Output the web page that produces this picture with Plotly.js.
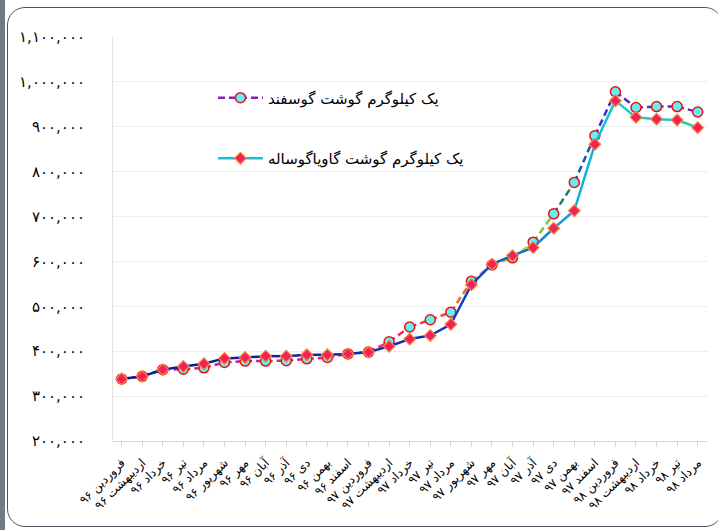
<!DOCTYPE html>
<html>
<head>
<meta charset="utf-8">
<script src="https://cdn.plot.ly/plotly-3.0.1.min.js"></script>
<style>
  html, body { margin: 0; padding: 0; background: #ffffff; }
  #wrap { position: relative; width: 718px; height: 530px; overflow: hidden; background: #fff; }
  #bar { position: absolute; left: 0; top: 0; width: 5px; height: 530px; background: #6f7b88; }
  #frame { position: absolute; left: 7px; top: 7px; width: 716px; height: 520px; border: 1.5px solid #4b5663; border-radius: 18px; box-sizing: border-box; }
  #chart { position: absolute; left: 0; top: 0; width: 718px; height: 530px; }
</style>
</head>
<body>
<div id="wrap">
  <div id="bar"></div>
  <div id="frame"></div>
  <div id="chart"></div>
</div>
<script>
// ---- data ----
const months = [
  'فروردین ۹۶','اردیبهشت ۹۶','خرداد ۹۶','تیر ۹۶','مرداد ۹۶','شهریور ۹۶','مهر ۹۶','آبان ۹۶','آذر ۹۶','دی ۹۶','بهمن ۹۶','اسفند ۹۶',
  'فروردین ۹۷','اردیبهشت ۹۷','خرداد ۹۷','تیر ۹۷','مرداد ۹۷','شهریور ۹۷','مهر ۹۷','آبان ۹۷','آذر ۹۷','دی ۹۷','بهمن ۹۷','اسفند ۹۷',
  'فروردین ۹۸','اردیبهشت ۹۸','خرداد ۹۸','تیر ۹۸','مرداد ۹۸'
];
const sheepName = 'یک کیلوگرم گوشت گوسفند';
const cowName = 'یک کیلوگرم گوشت گاویاگوساله';
const sheep = [338000, 344000, 359000, 360000, 363000, 375000, 378000, 378000, 379000, 383000, 386000, 394000,
               398000, 421000, 454000, 470000, 487000, 556000, 592000, 608000, 643000, 706000, 776000, 880000,
               978000, 943000, 945000, 945000, 933000];
const cow   = [338000, 344000, 359000, 366000, 372000, 384000, 386000, 389000, 389000, 392000, 392000, 394000,
               398000, 411000, 427000, 435000, 460000, 548000, 594000, 613000, 631000, 674000, 713000, 861000,
               958000, 921000, 917000, 915000, 898000];
const yTickVals = [200000, 300000, 400000, 500000, 600000, 700000, 800000, 900000, 1000000, 1100000];
const yTickText = ['۲۰۰,۰۰۰','۳۰۰,۰۰۰','۴۰۰,۰۰۰','۵۰۰,۰۰۰','۶۰۰,۰۰۰','۷۰۰,۰۰۰','۸۰۰,۰۰۰','۹۰۰,۰۰۰','۱,۰۰۰,۰۰۰','۱,۱۰۰,۰۰۰'];

// ---- styles (segment gradient colours) ----
const sheepSegColors = ['#9b1c8e','#a91d8a','#b81f88','#c42087','#cc2085','#d22083','#d62080','#da207c','#de2178','#e02274','#e2246e','#e42868',
                        '#e62c62','#e8305a','#ea3a50','#ec4a44','#ee6a30','#f09020','#e8b418','#d8d020','#88c040','#2a7a66','#1e50b0','#2a30e0',
                        '#5a20d0','#6a1fc8','#7020c0','#7820b8'];
const cowSegColors = ['#0a1a96','#0a1b98','#0a1c9a','#0a1d9c','#0b1e9e','#0b20a0','#0b22a2','#0b24a4','#0c26a6','#0c28a8','#0c2aaa','#0c2cac',
                      '#0d2eae','#0d30b0','#0e34b2','#0e38b6','#0e40ba','#0e4cc2','#1060cc','#1470d6','#1884de','#1a98e6','#14b0e0','#12c0d8',
                      '#1ac8c4','#20c8b8','#22c8b4','#24c8b0'];

const traces = [];
for (let i = 0; i < months.length - 1; i++) {
  traces.push({
    x: [months[i], months[i+1]], y: [sheep[i], sheep[i+1]],
    mode: 'lines', type: 'scatter', showlegend: false, hoverinfo: 'skip',
    line: {color: sheepSegColors[i], width: 2.5, dash: '7px,4px'}
  });
}
traces.push({
  x: months, y: sheep, mode: 'markers', type: 'scatter', showlegend: false, name: sheepName,
  marker: {symbol: 'circle', size: 10, color: '#66eef0', line: {color: '#ee1111', width: 1.5}}
});
for (let i = 0; i < months.length - 1; i++) {
  traces.push({
    x: [months[i], months[i+1]], y: [cow[i], cow[i+1]],
    mode: 'lines', type: 'scatter', showlegend: false, hoverinfo: 'skip',
    line: {color: cowSegColors[i], width: 2.5}
  });
}
traces.push({
  x: months, y: cow, mode: 'markers', type: 'scatter', showlegend: false, name: cowName,
  marker: {symbol: 'diamond', size: 9, color: '#f2215c', line: {color: '#f58a3a', width: 1.2}}
});
// legend proxies
traces.push({
  x: [null], y: [null], mode: 'lines+markers', type: 'scatter', name: sheepName, legendgroup: 'a',
  line: {color: '#8a1fb0', width: 2.5, dash: '7px,4px'},
  marker: {symbol: 'circle', size: 10, color: '#66eef0', line: {color: '#ee1111', width: 1.5}}
});
traces.push({
  x: [null], y: [null], mode: 'lines+markers', type: 'scatter', name: cowName, legendgroup: 'b',
  line: {color: '#1ac0d0', width: 2.5},
  marker: {symbol: 'diamond', size: 9, color: '#f2215c', line: {color: '#f58a3a', width: 1.2}}
});

const layout = {
  width: 718, height: 530,
  margin: {l: 113, r: 10, t: 37, b: 89},
  paper_bgcolor: 'rgba(0,0,0,0)', plot_bgcolor: 'rgba(0,0,0,0)',
  font: {family: 'DejaVu Sans, sans-serif', color: '#000000'},
  showlegend: true,
  legend: {
    x: 0.168, y: 0.89, xanchor: 'left', yanchor: 'top',
    bgcolor: 'rgba(0,0,0,0)', font: {size: 15, color: '#000'},
    tracegroupgap: 38, itemwidth: 45, traceorder: 'grouped'
  },
  xaxis: {
    type: 'category', range: [-0.42, 28.5],
    tickangle: -45, ticks: 'outside', ticklen: 5, tickcolor: '#d9d9d9',
    showline: true, linecolor: '#d9d9d9', linewidth: 1, showgrid: false, zeroline: false,
    ticklabelstandoff: 4,
    tickfont: {size: 12, color: '#000'}
  },
  yaxis: {
    range: [200000, 1100000], tickvals: yTickVals, ticktext: yTickText,
    showgrid: true, gridcolor: '#eeeeee', gridwidth: 1,
    showline: true, linecolor: '#e2e2e2', zeroline: false, ticks: '',
    ticklabelstandoff: 24, tickfont: {size: 15, color: '#000'}
  }
};

Plotly.newPlot('chart', traces, layout, {displayModeBar: false, staticPlot: true});
</script>
</body>
</html>
